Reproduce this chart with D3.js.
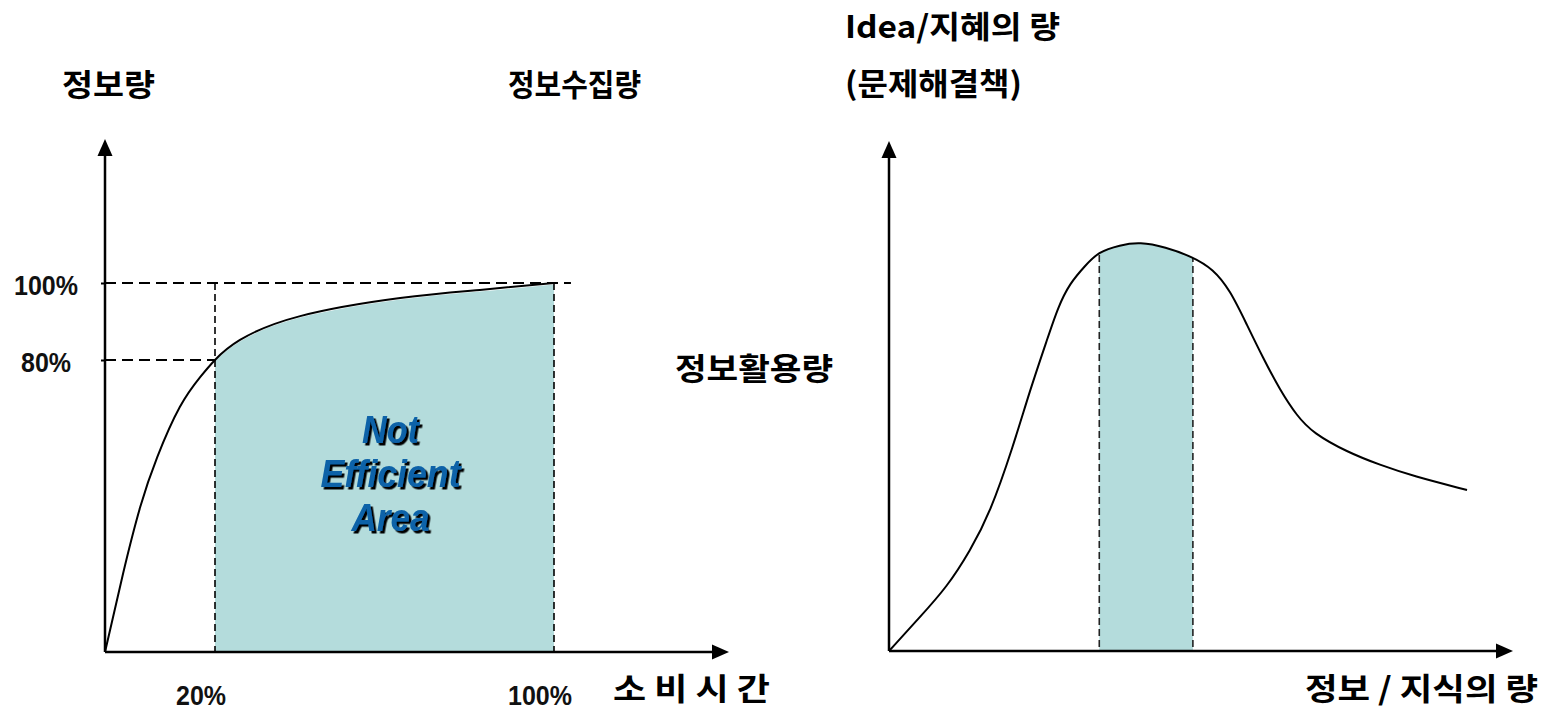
<!DOCTYPE html>
<html><head><meta charset="utf-8">
<script src="https://cdn.jsdelivr.net/npm/d3@7"></script>
<style>
html,body{margin:0;padding:0;background:#fff;}
svg{display:block;}
.ko{font-family:"Noto Sans CJK KR","Noto Sans",sans-serif;font-weight:700;fill:#000;}
.num{font-family:"Liberation Sans Narrow","Liberation Sans",sans-serif;font-weight:700;fill:#111;}
.big{font-family:"Liberation Sans Narrow","Liberation Sans",sans-serif;font-weight:700;font-style:italic;}
</style></head><body>
<svg id="chart" width="1545" height="712"></svg>
<script>
// Left panel: information collected vs. time spent (percent)
const collectTime = [0, 3.3, 6.4, 9.5, 13.6, 17.3, 20, 25.9, 40.1, 63.7, 82.5, 100];
const collectInfo = [0, 21.6, 39.7, 53.4, 67.1, 75.3, 80, 85.2, 91.4, 96.1, 98.2, 100];
const collectXTicks = [20, 100];
const collectXLabels = ["20%", "100%"];
const collectYTicks = [80, 100];
const collectYLabels = ["80%", "100%"];
const inefficientRange = [20, 100];
const inefficientText = ["Not", "Efficient", "Area"];

// Right panel: ideas vs. amount of information / knowledge (relative units)
const knowledge = [0, 4.97, 9.29, 12.98, 16.19, 19.87, 22.60, 25.32, 27.08, 29.01, 31.41, 33.49, 37.02, 40.22, 44.23, 48.72, 51.92, 54.65, 57.37, 59.94, 62.66, 65.38, 67.95, 73.40, 78.69, 83.97, 92.63];
const ideas = [0, 6.72, 12.65, 19.76, 27.27, 40.32, 51.58, 61.46, 67.98, 72.73, 76.09, 78.85, 80.24, 80.83, 79.84, 77.87, 75.49, 71.34, 64.43, 57.91, 51.58, 46.44, 43.08, 39.33, 36.76, 34.58, 31.82];
const optimalRange = [33.7, 48.7];

const FILL = "#b4dcdc";
const svg = d3.select("#chart");

const defs = svg.append("defs");
// arrow head for the axes
defs.append("marker")
  .attr("id", "arrow")
  .attr("markerUnits", "userSpaceOnUse")
  .attr("markerWidth", 18).attr("markerHeight", 16)
  .attr("viewBox", "0 0 18 16")
  .attr("refX", 8).attr("refY", 8)
  .attr("orient", "auto")
  .append("path").attr("d", "M0,0.5 L17,8 L0,15.5 Z").attr("fill", "#000");

// hard black drop shadow for the area caption
const shadow = defs.append("filter").attr("id", "hardShadow")
  .attr("x", "-10%").attr("y", "-10%").attr("width", "130%").attr("height", "130%");
shadow.append("feDropShadow")
  .attr("dx", 2.5).attr("dy", 2.5).attr("stdDeviation", 0)
  .attr("flood-color", "#000").attr("flood-opacity", 1);

function axisLine(g, x1, y1, x2, y2) {
  const dx = x2 - x1, dy = y2 - y1, len = Math.hypot(dx, dy);
  g.append("line")
    .attr("x1", x1).attr("y1", y1)
    .attr("x2", x2 - dx / len * 9).attr("y2", y2 - dy / len * 9)
    .attr("stroke", "#000").attr("stroke-width", 2.5)
    .attr("marker-end", "url(#arrow)");
}

const smoothLeft = d3.curveNatural;
const smoothRight = d3.curveBasis;

/* ---------------- left panel ---------------- */
const xL = d3.scaleLinear().domain([0, 20, 100]).range([105, 215, 554]);
const yL = d3.scaleLinear().domain([0, 80, 100]).range([652, 360, 283]);
const left = svg.append("g");
const collectPts = collectTime.map((t, i) => [t, collectInfo[i]]);

defs.append("clipPath").attr("id", "clipLeft")
  .append("rect")
  .attr("x", xL(inefficientRange[0])).attr("y", 0)
  .attr("width", xL(inefficientRange[1]) - xL(inefficientRange[0]))
  .attr("height", yL(0));

left.append("path")
  .datum(collectPts)
  .attr("clip-path", "url(#clipLeft)")
  .attr("fill", FILL)
  .attr("d", d3.area().curve(smoothLeft).x(d => xL(d[0])).y0(yL(0)).y1(d => yL(d[1]) + 1.5));

// dashed guides
const guide = left.append("g").attr("stroke", "#000").attr("fill", "none");
guide.append("line")
  .attr("x1", xL(0)).attr("x2", xL(104)).attr("y1", yL(100)).attr("y2", yL(100))
  .attr("stroke-width", 2).attr("stroke-dasharray", "11,6");
guide.append("line")
  .attr("x1", xL(0)).attr("x2", xL(20)).attr("y1", yL(80)).attr("y2", yL(80))
  .attr("stroke-width", 2).attr("stroke-dasharray", "11,6");
collectXTicks.forEach(v => {
  guide.append("line")
    .attr("x1", xL(v)).attr("x2", xL(v)).attr("y1", yL(100)).attr("y2", yL(0))
    .attr("stroke-width", 1.6).attr("stroke-dasharray", "7,4");
});

// y ticks
left.append("g")
  .attr("transform", `translate(${xL(0)},0)`)
  .call(d3.axisLeft(yL).tickValues(collectYTicks).tickSize(4).tickFormat(""))
  .call(g => g.select(".domain").remove())
  .call(g => g.selectAll("line").attr("stroke-width", 2));

left.append("path")
  .datum(collectPts)
  .attr("fill", "none").attr("stroke", "#000").attr("stroke-width", 2)
  .attr("d", d3.line().curve(smoothLeft).x(d => xL(d[0])).y(d => yL(d[1])));

axisLine(left, xL(0), yL(0), 729, yL(0));
axisLine(left, xL(0), yL(0), xL(0), 139);

const labelWidth = s => s.length >= 4 ? 64 : 50;
left.selectAll("text.yl").data(collectYTicks).join("text")
  .attr("class", "num").attr("font-size", 28).attr("text-anchor", "middle")
  .attr("x", 46).attr("y", d => yL(d) + 12)
  .attr("textLength", (d, i) => labelWidth(collectYLabels[i])).attr("lengthAdjust", "spacingAndGlyphs")
  .text((d, i) => collectYLabels[i]);
left.selectAll("text.xl").data(collectXTicks).join("text")
  .attr("class", "num").attr("font-size", 28).attr("text-anchor", "middle")
  .attr("x", d => xL(d) - 14).attr("y", 705)
  .attr("textLength", (d, i) => labelWidth(collectXLabels[i])).attr("lengthAdjust", "spacingAndGlyphs")
  .text((d, i) => collectXLabels[i]);

// "Not Efficient Area" caption, one text block of three lines
const midX = xL((inefficientRange[0] + inefficientRange[1]) / 2) + 6;
const bigWidths = [57, 140, 78];
left.append("text").attr("class", "big").attr("filter", "url(#hardShadow)")
  .attr("font-size", 38).attr("text-anchor", "middle").attr("fill", "#0a62a8")
  .attr("x", midX).attr("y", 443)
  .selectAll("tspan").data(inefficientText).join("tspan")
  .attr("x", midX).attr("y", (d, i) => 443 + i * 44)
  .attr("textLength", (d, i) => bigWidths[i]).attr("lengthAdjust", "spacingAndGlyphs")
  .text(d => d);

/* ---------------- right panel ---------------- */
const xR = d3.scaleLinear().domain([0, 100]).range([889, 1513]);
const yR = d3.scaleLinear().domain([0, 100]).range([651, 145]);
const right = svg.append("g");
const ideaPts = knowledge.map((k, i) => [k, ideas[i]]);
const ideaArea = d3.area().curve(smoothRight).x(d => xR(d[0])).y0(yR(0)).y1(d => yR(d[1]));

defs.append("clipPath").attr("id", "clipUnder")
  .append("path").datum(ideaPts).attr("d", ideaArea);

const band = right.append("g").attr("clip-path", "url(#clipUnder)");
band.append("rect")
  .attr("x", xR(optimalRange[0])).attr("y", yR(100))
  .attr("width", xR(optimalRange[1]) - xR(optimalRange[0]))
  .attr("height", yR(0) - yR(100))
  .attr("fill", FILL);
optimalRange.forEach(v => {
  band.append("line")
    .attr("x1", xR(v)).attr("x2", xR(v)).attr("y1", yR(100)).attr("y2", yR(0))
    .attr("stroke", "#222").attr("stroke-width", 1.6).attr("stroke-dasharray", "7,4");
});

right.append("path")
  .datum(ideaPts)
  .attr("fill", "none").attr("stroke", "#000").attr("stroke-width", 2)
  .attr("d", d3.line().curve(smoothRight).x(d => xR(d[0])).y(d => yR(d[1])));

axisLine(right, xR(0), yR(0), xR(100), yR(0));
axisLine(right, xR(0), yR(0), xR(0), 141);

/* ---------------- titles ---------------- */
const labels = [
  ["정보량", 62, 96, 93],
  ["정보수집량", 508, 96, 133],
  ["Idea/지혜의 량", 845, 38, 215],
  ["(문제해결책)", 845, 95, 177],
  ["정보활용량", 675, 380, 158],
  ["소 비 시 간", 613, 700, 157],
  ["정보 / 지식의 량", 1305, 700, 233]
];
svg.selectAll("text.title").data(labels).join("text")
  .attr("class", "ko").attr("font-size", 31)
  .attr("x", d => d[1]).attr("y", d => d[2])
  .attr("textLength", d => d[3]).attr("lengthAdjust", "spacingAndGlyphs")
  .text(d => d[0]);
</script>
</body></html>
